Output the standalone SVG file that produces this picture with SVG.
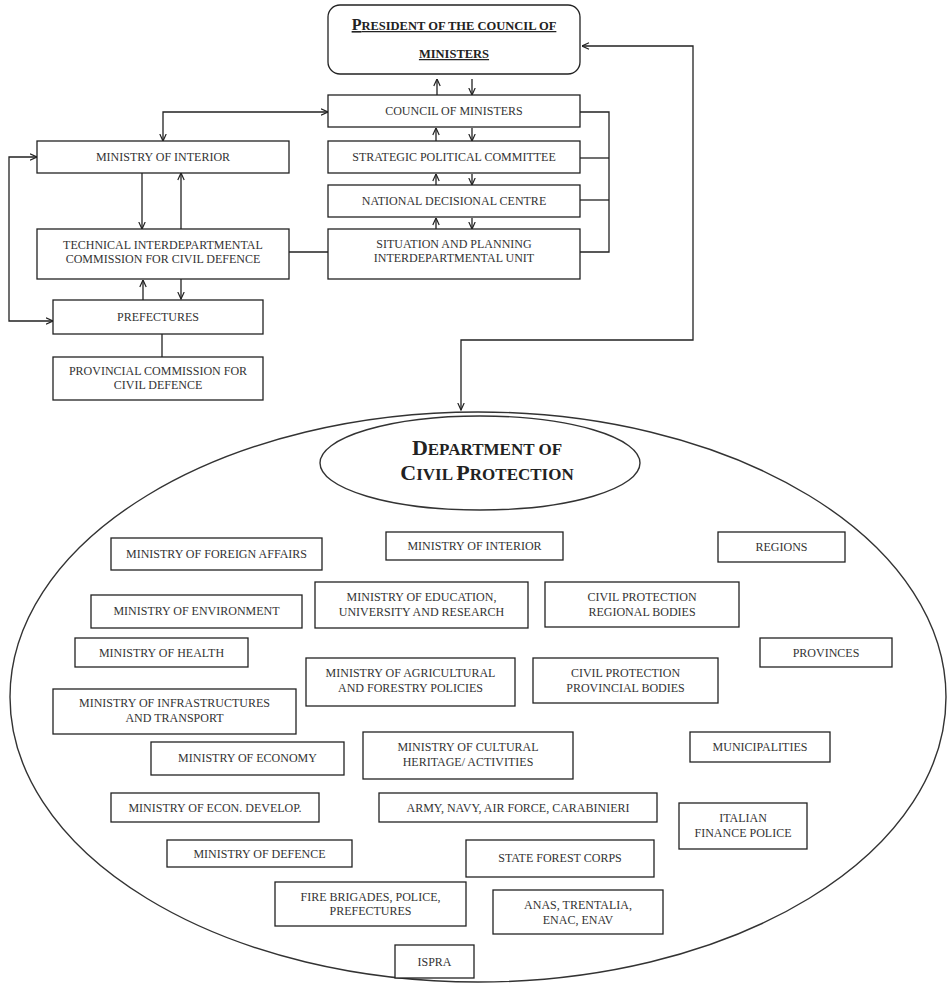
<svg xmlns="http://www.w3.org/2000/svg" width="948" height="984" viewBox="0 0 948 984">
<defs>
<marker id="ah" viewBox="0 0 8 8" refX="7.5" refY="4" markerWidth="8" markerHeight="8" markerUnits="userSpaceOnUse" orient="auto-start-reverse">
<path d="M0.5,0.8 L7.5,4 L0.5,7.2" fill="none" stroke="#222" stroke-width="1.2"/>
</marker>
<style>
.b{fill:#fff;stroke:#222;stroke-width:1.3}
.t{font-family:"Liberation Serif","Times New Roman",serif;font-size:12px;fill:#333;text-anchor:middle}
.h{font-family:"Liberation Serif","Times New Roman",serif;font-weight:bold;fill:#222;text-anchor:middle}
.c{fill:none;stroke:#222;stroke-width:1.3}
.a{fill:none;stroke:#222;stroke-width:1.3;marker-end:url(#ah)}
.a2{fill:none;stroke:#222;stroke-width:1.3;marker-end:url(#ah);marker-start:url(#ah)}
.e{fill:none;stroke:#333;stroke-width:1.4}
</style>
</defs>
<rect width="948" height="984" fill="#fff"/>

<g id="connectors">
<line class="a" x1="437" y1="95" x2="437" y2="79"/>
<line class="a" x1="472" y1="79" x2="472" y2="95"/>
<line class="a" x1="436" y1="141" x2="436" y2="128"/>
<line class="a" x1="472" y1="128" x2="472" y2="141"/>
<line class="a" x1="436" y1="185" x2="436" y2="174"/>
<line class="a" x1="472" y1="174" x2="472" y2="185"/>
<line class="a" x1="436" y1="229" x2="436" y2="218"/>
<line class="a" x1="472" y1="218" x2="472" y2="229"/>
<polyline class="c" points="580,112 609,112 609,252 580,252"/>
<line class="c" x1="580" y1="158" x2="609" y2="158"/>
<line class="c" x1="580" y1="200" x2="609" y2="200"/>
<path class="a2" d="M461,410 L461,340 L693,340 L693,46 L582,46"/>
<path class="a2" d="M163,141 L163,112 L328,112"/>
<path class="a2" d="M53,321 L9,321 L9,157 L37,157"/>
<line class="a" x1="142" y1="173" x2="142" y2="229"/>
<line class="a" x1="181" y1="229" x2="181" y2="173"/>
<line class="a" x1="143" y1="300" x2="143" y2="280"/>
<line class="a" x1="181" y1="279" x2="181" y2="299"/>
<line class="c" x1="289" y1="252" x2="328" y2="252"/>
<line class="c" x1="162" y1="334" x2="162" y2="357"/>
</g>

<g id="president">
<rect class="b" x="328" y="5" width="252" height="69" rx="12"/>
<text class="h" x="454" y="30" text-decoration="underline"><tspan font-size="16">P</tspan><tspan font-size="12.5">RESIDENT OF THE COUNCIL OF</tspan></text>
<text class="h" x="454" y="58" font-size="12.5" text-decoration="underline">MINISTERS</text>
</g>
<g id="council"><rect class="b" x="328" y="95" width="252" height="32"/><text class="t" x="454" y="115">COUNCIL OF MINISTERS</text></g>
<g id="strategic"><rect class="b" x="328" y="141" width="252" height="32"/><text class="t" x="454" y="161">STRATEGIC POLITICAL COMMITTEE</text></g>
<g id="national"><rect class="b" x="328" y="185" width="252" height="32"/><text class="t" x="454" y="205">NATIONAL DECISIONAL CENTRE</text></g>
<g id="situation"><rect class="b" x="328" y="229" width="252" height="50"/><text class="t" x="454" y="248">SITUATION AND PLANNING</text><text class="t" x="454" y="262">INTERDEPARTMENTAL UNIT</text></g>
<g id="ministry-interior"><rect class="b" x="37" y="141" width="252" height="32"/><text class="t" x="163" y="161">MINISTRY OF INTERIOR</text></g>
<g id="technical"><rect class="b" x="37" y="229" width="252" height="50"/><text class="t" x="163" y="249">TECHNICAL INTERDEPARTMENTAL</text><text class="t" x="163" y="263">COMMISSION FOR CIVIL DEFENCE</text></g>
<g id="prefectures"><rect class="b" x="53" y="300" width="210" height="34"/><text class="t" x="158" y="321">PREFECTURES</text></g>
<g id="provincial"><rect class="b" x="53" y="357" width="210" height="43"/><text class="t" x="158" y="375">PROVINCIAL COMMISSION FOR</text><text class="t" x="158" y="389">CIVIL DEFENCE</text></g>

<g id="department">
<ellipse class="e" cx="478" cy="697" rx="468" ry="285"/>
<ellipse class="e" cx="480" cy="463" rx="160" ry="47"/>
<text class="h" x="487" y="455"><tspan font-size="22">D</tspan><tspan font-size="17">EPARTMENT OF</tspan></text>
<text class="h" x="487" y="480"><tspan font-size="22">C</tspan><tspan font-size="17">IVIL </tspan><tspan font-size="22">P</tspan><tspan font-size="17">ROTECTION</tspan></text>
</g>

<g id="foreign"><rect class="b" x="111" y="538" width="211" height="32"/><text class="t" x="216.5" y="558">MINISTRY OF FOREIGN AFFAIRS</text></g>
<g id="interior2"><rect class="b" x="386" y="532" width="177" height="28"/><text class="t" x="474.5" y="550">MINISTRY OF INTERIOR</text></g>
<g id="regions"><rect class="b" x="718" y="532" width="127" height="30"/><text class="t" x="781.5" y="551">REGIONS</text></g>
<g id="environment"><rect class="b" x="91" y="595" width="211" height="33"/><text class="t" x="196.5" y="615">MINISTRY OF ENVIRONMENT</text></g>
<g id="education"><rect class="b" x="315" y="582" width="213" height="46"/><text class="t" x="421.5" y="601">MINISTRY OF EDUCATION,</text><text class="t" x="421.5" y="616">UNIVERSITY AND RESEARCH</text></g>
<g id="cp-regional"><rect class="b" x="545" y="582" width="194" height="45"/><text class="t" x="642" y="601">CIVIL PROTECTION</text><text class="t" x="642" y="616">REGIONAL BODIES</text></g>
<g id="health"><rect class="b" x="75" y="638" width="173" height="29"/><text class="t" x="161.5" y="657">MINISTRY OF HEALTH</text></g>
<g id="provinces"><rect class="b" x="760" y="638" width="132" height="29"/><text class="t" x="826" y="657">PROVINCES</text></g>
<g id="agricultural"><rect class="b" x="306" y="658" width="209" height="48"/><text class="t" x="410.5" y="677">MINISTRY OF AGRICULTURAL</text><text class="t" x="410.5" y="692">AND FORESTRY POLICIES</text></g>
<g id="cp-provincial"><rect class="b" x="533" y="658" width="185" height="45"/><text class="t" x="625.5" y="677">CIVIL PROTECTION</text><text class="t" x="625.5" y="692">PROVINCIAL BODIES</text></g>
<g id="infrastructures"><rect class="b" x="53" y="689" width="243" height="45"/><text class="t" x="174.5" y="707">MINISTRY OF INFRASTRUCTURES</text><text class="t" x="174.5" y="722">AND TRANSPORT</text></g>
<g id="economy"><rect class="b" x="151" y="742" width="193" height="33"/><text class="t" x="247.5" y="762">MINISTRY OF ECONOMY</text></g>
<g id="cultural"><rect class="b" x="363" y="732" width="210" height="47"/><text class="t" x="468" y="751">MINISTRY OF CULTURAL</text><text class="t" x="468" y="766">HERITAGE/ ACTIVITIES</text></g>
<g id="municipalities"><rect class="b" x="690" y="732" width="140" height="30"/><text class="t" x="760" y="751">MUNICIPALITIES</text></g>
<g id="econ-develop"><rect class="b" x="111" y="793" width="208" height="29"/><text class="t" x="215" y="812">MINISTRY OF ECON. DEVELOP.</text></g>
<g id="army"><rect class="b" x="379" y="793" width="278" height="29"/><text class="t" x="518" y="812">ARMY, NAVY, AIR FORCE, CARABINIERI</text></g>
<g id="finance-police"><rect class="b" x="679" y="803" width="128" height="46"/><text class="t" x="743" y="822">ITALIAN</text><text class="t" x="743" y="837">FINANCE POLICE</text></g>
<g id="defence"><rect class="b" x="167" y="840" width="185" height="27"/><text class="t" x="259.5" y="858">MINISTRY OF DEFENCE</text></g>
<g id="forest"><rect class="b" x="466" y="840" width="188" height="37"/><text class="t" x="560" y="862">STATE FOREST CORPS</text></g>
<g id="fire"><rect class="b" x="275" y="882" width="191" height="44"/><text class="t" x="370.5" y="901">FIRE BRIGADES, POLICE,</text><text class="t" x="370.5" y="915">PREFECTURES</text></g>
<g id="anas"><rect class="b" x="493" y="890" width="170" height="44"/><text class="t" x="578" y="909">ANAS, TRENTALIA,</text><text class="t" x="578" y="924">ENAC, ENAV</text></g>
<g id="ispra"><rect class="b" x="395" y="945" width="79" height="33"/><text class="t" x="434.5" y="966">ISPRA</text></g>
</svg>
